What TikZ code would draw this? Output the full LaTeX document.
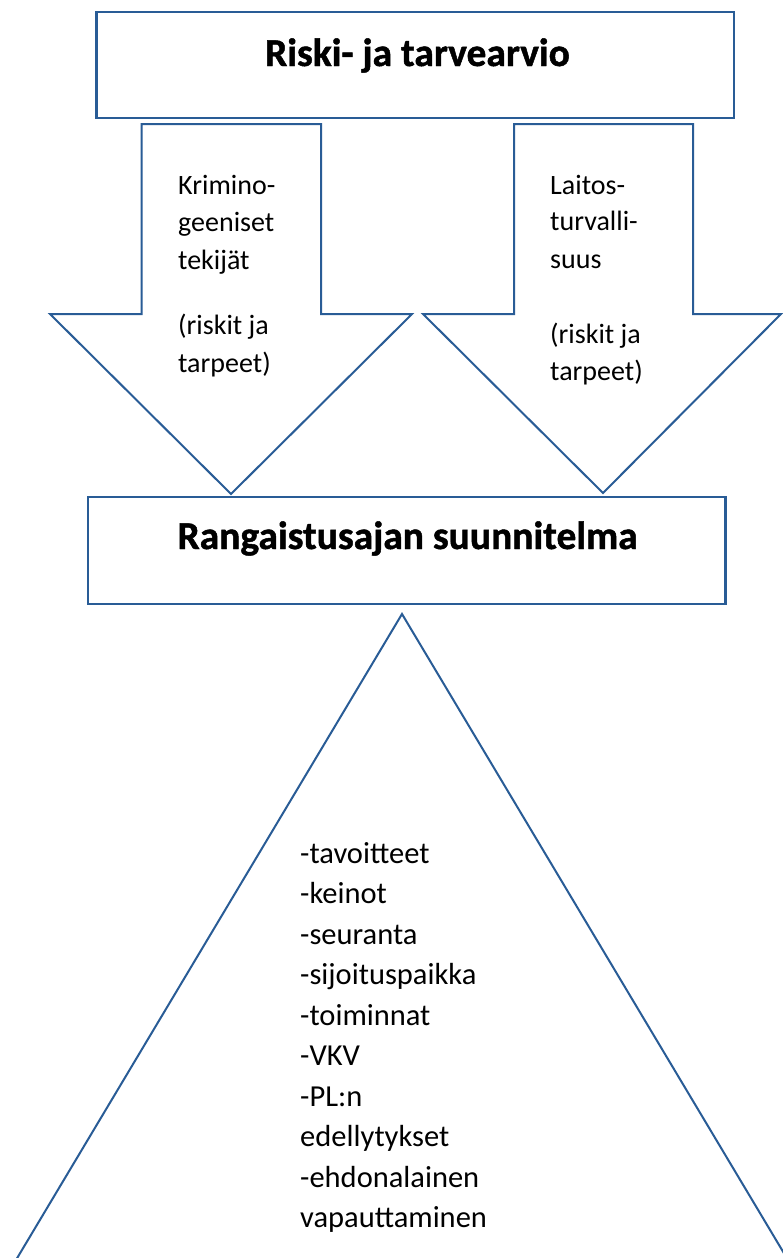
\documentclass[tikz,border=0pt]{standalone}
\usepackage{fontspec}
\setmainfont{Carlito}
\newfontfamily\titlefont{Carlito}[BoldFeatures={FakeBold=1.2}]
\definecolor{edge}{RGB}{41,92,150}
\begin{document}
\begin{tikzpicture}[x=1pt,y=-1pt,
  box/.style={draw=edge, line width=2.2pt, fill=white, inner sep=0pt},
  blockarrow/.style={draw=edge, line width=2pt, fill=white, line join=miter},
  sideline/.style={draw=edge, line width=2pt},
  title/.style={font=\titlefont\bfseries\fontsize{39.5}{47}\selectfont, inner sep=0pt, anchor=base},
  arrowtxt/.style={font=\fontsize{28}{37.5}\selectfont, inner sep=0pt, anchor=base west},
  listtxt/.style={font=\fontsize{30.5}{40.5}\selectfont, inner sep=0pt, anchor=base west}]
\useasboundingbox (0,0) rectangle (782,1258);
\fill[white] (0,0) rectangle (782,1258);

% top box
\node[box, minimum width=637.5pt, minimum height=106pt] (topbox) at (415.25,65) {};
\node[title] (toptitle) at (417.5,66) {Riski- ja tarvearvio};

% left block arrow
\path[blockarrow] (141.7,124) -- (321,124) -- (321,314) -- (412,314) -- (231,494)
  -- (50,314) -- (141.7,314) -- cycle;
\node[arrowtxt] (la1) at (178,194) {Krimino-};
\node[arrowtxt] (la2) at (178,231.5) {geeniset};
\node[arrowtxt] (la3) at (178,269) {tekijät};
\node[arrowtxt] (la4) at (178,334) {(riskit ja};
\node[arrowtxt] (la5) at (178,372) {tarpeet)};

% right block arrow
\path[blockarrow] (514,124) -- (693,124) -- (693,314) -- (781,314) -- (603,493)
  -- (423,314) -- (514,314) -- cycle;
\node[arrowtxt] (ra1) at (550,194) {Laitos-};
\node[arrowtxt] (ra2) at (550,230.5) {turvalli-};
\node[arrowtxt] (ra3) at (550,268) {suus};
\node[arrowtxt] (ra4) at (550,343) {(riskit ja};
\node[arrowtxt] (ra5) at (550,380) {tarpeet)};

% middle box
\node[box, minimum width=637.5pt, minimum height=107pt] (midbox) at (406.75,550.5) {};
\node[title] (midtitle) at (407.5,549) {Rangaistusajan suunnitelma};

% triangle
\coordinate (apex) at (402,614);
\coordinate (tl) at (12.4,1266);
\coordinate (tr) at (791.6,1266);
\draw[sideline, line join=miter] (tl) -- (apex) -- (tr);

% list
\foreach \t [count=\i] in {-tavoitteet,-keinot,-seuranta,-sijoituspaikka,-toiminnat,-VKV,-PL:n,edellytykset,-ehdonalainen,vapauttaminen}{
  \node[listtxt] (l\i) at (300,{863+(\i-1)*40.5}) {\t};
}
\end{tikzpicture}
\end{document}
